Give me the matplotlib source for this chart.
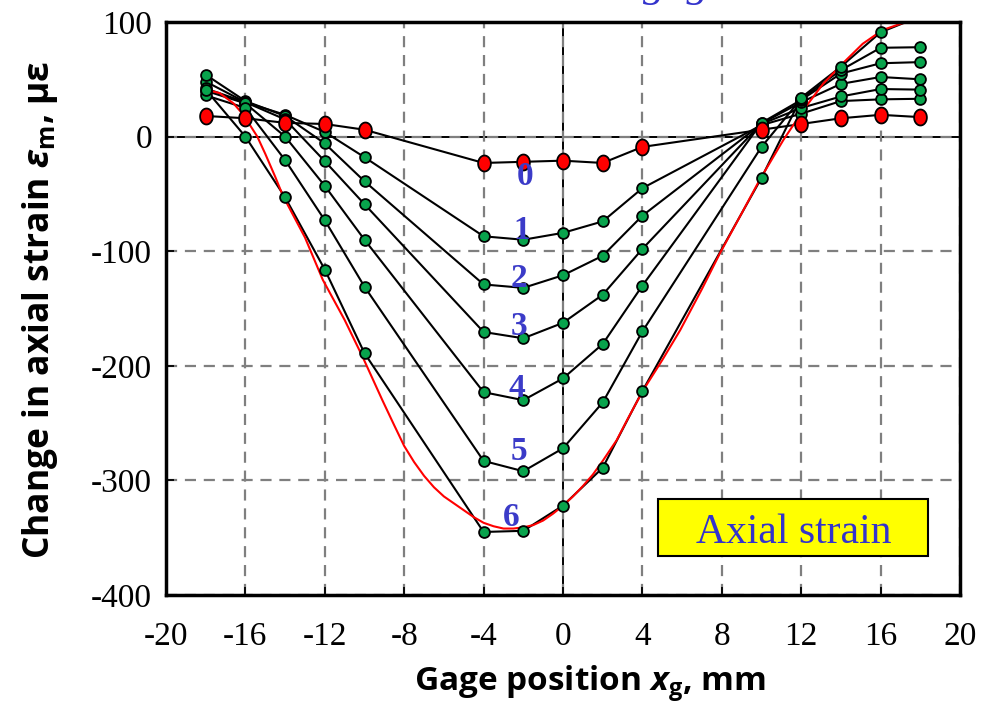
import matplotlib
matplotlib.use("Agg")
import matplotlib.pyplot as plt
import numpy as np
from matplotlib.path import Path
from matplotlib.patches import Rectangle

# gage positions (mm) and measured strain change for each load step
x_gage = [-18, -16, -14, -12, -10, -4, -2, 0, 2, 4, 10, 12, 14, 16, 18]
strain_0 = [18, 16, 12, 11, 6, -23, -22, -21, -23, -9, 6, 11, 16, 19, 17]
strain_1 = [48, 30, 19, 4, -18, -87, -90, -84, -74, -45, 10, 20, 31, 32.5, 33]
strain_2 = [54, 31, 18, -6, -39, -129, -132, -121, -104, -69, 11, 25, 35, 41.5, 41]
strain_3 = [42, 30, 15, -21.5, -59, -170.5, -176, -162.5, -138, -98, 11.5, 30, 46, 52, 50]
strain_4 = [40, 29, 0, -43, -90, -223, -230, -211, -181, -130, 12, 32, 55, 64, 65]
strain_5 = [36, 25, -20.5, -73, -131, -283, -292, -272, -232, -170, -9, 33, 58, 77.5, 78]
strain_6 = [41, 0, -53, -116, -189, -345, -344, -322, -289, -222, -36, 34, 61, 91, 105]
green_steps = [strain_1, strain_2, strain_3, strain_4, strain_5, strain_6]

# computed axial strain profile
curve_x = [-18, -17.3, -16.6, -16.1, -15.4, -15.0, -14.5, -14.1, -13.0, -12.1, -11.0,
           -10.1, -9.1, -8.5, -8.0, -7.5, -7.0, -6.5, -6.0, -5.5, -5.0, -4.5, -4.0,
           -3.5, -3.0, -2.5, -2.0, -1.5, -1.0, -0.5, 0.0, 0.5, 1.0, 1.5, 2.0, 2.7,
           3.3, 4.05, 5.0, 5.9, 7.0, 7.9, 9.0, 9.9, 11.1, 12.1, 13.1, 14.1, 15.1,
           16.1, 17.1, 18.0]
curve_y = [41, 38, 29, 19, 0, -15, -35, -52, -88, -125, -160,
           -192, -230, -252, -270, -284, -296, -306, -314, -320, -326, -332, -337,
           -340, -342, -342, -341, -339, -335, -329, -322, -314, -305, -295, -283, -265,
           -245, -221, -195, -169, -133, -102, -67, -38, -3, 23, 46, 64, 81,
           93, 99, 100]

step_names = ["0", "1", "2", "3", "4", "5", "6"]

plt.rcParams['axes.unicode_minus'] = False
plt.rcParams['mathtext.fontset'] = 'custom'
plt.rcParams['mathtext.rm'] = 'Open Sans:bold'
plt.rcParams['mathtext.bf'] = 'Open Sans:bold'
plt.rcParams['mathtext.bfit'] = 'Open Sans:bold:italic'
plt.rcParams['mathtext.it'] = 'Open Sans:bold:italic'

fig = plt.figure(figsize=(9.86, 7.21), dpi=100)
ax = fig.add_axes([166 / 986, 126 / 721, 794 / 986, 573 / 721])

ax.set_xlim(-20, 20)
ax.set_ylim(-400, 100)
ax.set_xticks(np.arange(-20, 21, 4))
ax.set_yticks(np.arange(-400, 101, 100))

ax.grid(True, color='#7f7f7f', linestyle=(0, (5, 3.5)), linewidth=1.6, zorder=0)
ax.axhline(0, color='black', linewidth=1.4, zorder=1)
ax.axvline(0, color='black', linewidth=1.4, zorder=1)

# elliptical marker for the reference step
t = np.linspace(0, 2 * np.pi, 41)
ellipse = Path(np.column_stack([0.8 * np.cos(t), np.sin(t)]), closed=True)

for vals in [strain_0] + green_steps:
    ax.plot(x_gage, vals, color='black', linewidth=1.5, zorder=3)

ax.plot(curve_x, curve_y, color='#ff0000', linewidth=1.5, zorder=4)

for vals in green_steps:
    ax.plot(x_gage, vals, linestyle='none', marker='o', markersize=7.8,
            markerfacecolor='#08a34c', markeredgecolor='black', markeredgewidth=1.3, zorder=5)
ax.plot(x_gage, strain_0, linestyle='none', marker=ellipse, markersize=11.5,
        markerfacecolor='#ff0000', markeredgecolor='black', markeredgewidth=1.3, zorder=6)

label_pos = [(-1.9, -35), (-2.1, -82), (-2.2, -124), (-2.2, -166),
             (-2.3, -220), (-2.2, -275), (-2.6, -332)]
for name, (lx, ly) in zip(step_names, label_pos):
    ax.text(lx, ly, name, color='#3b3bc8', fontsize=24, fontweight='bold',
            family='Liberation Serif', ha='center', va='center', zorder=7)

# label box
ax.add_patch(Rectangle((4.8, -366.4), 13.6, 49.8, facecolor='#ffff00',
                       edgecolor='black', linewidth=1.5, zorder=8))
ax.text(11.6, -355, "Axial strain", color='#3333cc', fontsize=30,
        family='Liberation Serif', ha='center', va='baseline', zorder=9)

for side in ['left', 'right', 'top', 'bottom']:
    ax.spines[side].set_linewidth(2.5)
    ax.spines[side].set_color('black')
    ax.spines[side].set_zorder(10)

ax.tick_params(direction='in', length=6, width=1.3, pad=10)
ax.tick_params(axis='x', pad=19)
for lab in ax.get_xticklabels() + ax.get_yticklabels():
    lab.set_family('Liberation Serif')
    lab.set_fontsize(24)

fig.text(40 / 986, 1 - 310 / 721,
         r"Change in axial strain $\mathbfit{\varepsilon}_{\mathbf{m}}$, με",
         rotation=90, ha='center', va='center', fontsize=25.5,
         family='Open Sans', fontweight='bold')
fig.text(590 / 986, 1 - 684 / 721, r"Gage position $\mathbfit{x}_{\mathbf{g}}$, mm",
         ha='center', va='center', fontsize=24, family='Open Sans', fontweight='bold')

# caption running above the frame
fig.text(643 / 986, 1 + 4 / 721, "gage", color='#3333cc', fontsize=32,
         family='Liberation Serif', style='italic', ha='left', va='baseline')

fig.savefig("out.png", dpi=100)
